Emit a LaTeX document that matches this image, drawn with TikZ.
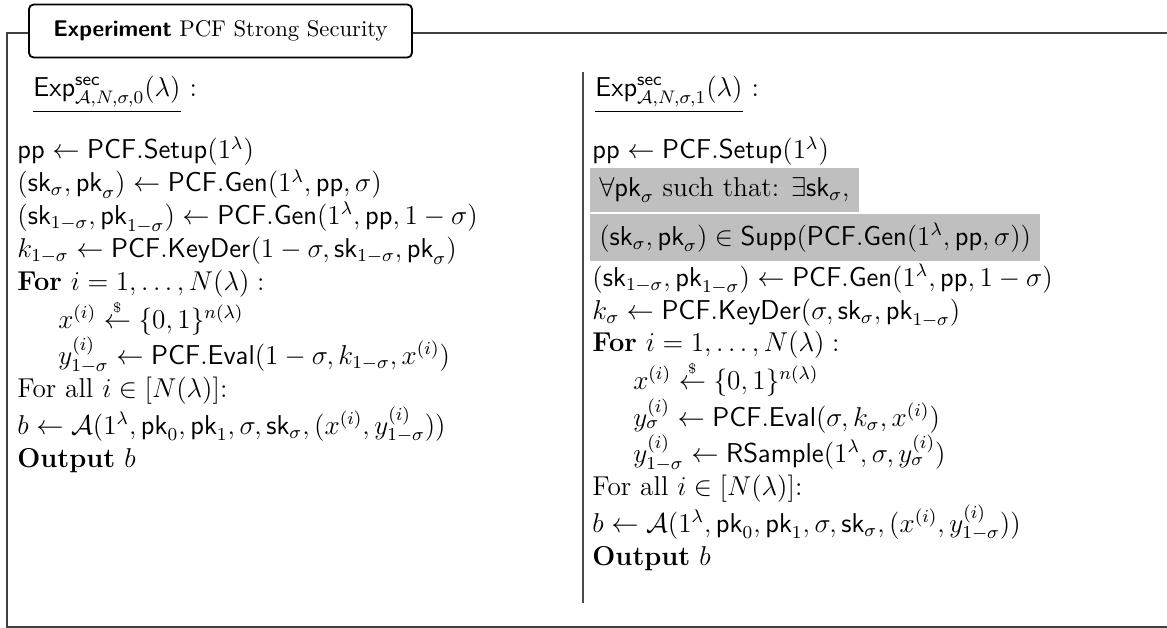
\documentclass[tikz,border=0pt,12pt]{standalone}
\usepackage{amsmath}
\usepackage{xcolor}
\newcommand{\sa}[1]{\mathsf{#1}}
\newcommand{\smp}{\mathrel{\overset{\scriptscriptstyle\$}{\leftarrow}}}
\newcommand{\ind}{\hspace*{18pt}}
\begin{document}
\begin{tikzpicture}[x=0.4405pt,y=-0.4405pt,
  frame/.style={draw=black!75, line width=0.8pt},
  sepline/.style={draw=black!70, line width=0.5pt},
  titlebox/.style={draw=black, line width=0.8pt, rounded corners=2pt, minimum width=168.7pt, minimum height=23.3pt, inner sep=0pt, font=\fontsize{10}{12}\selectfont},
  col/.style={anchor=base west, inner sep=0pt},
  hdr/.style={anchor=base west, inner sep=0pt}]
\useasboundingbox (0,0) rectangle (1167,628);
\fboxsep=4pt
\node[titlebox] (title) at (220.5,31) {\textsf{\bfseries Experiment} PCF Strong Security};
\coordinate (ty) at (0,33);
\draw[frame] (title.west |- ty) -- (7,33) -- (7,627) -- (1167,627);
\draw[frame] (title.east |- ty) -- (1167,33);
% headers
\node[hdr] (hl) at (33,97) {\underline{$\sa{Exp}^{\sa{sec}}_{\mathcal{A},N,\sigma,0}(\lambda)$}\hspace{4pt}:};
\node[hdr] (hr) at (595,97) {\underline{$\sa{Exp}^{\sa{sec}}_{\mathcal{A},N,\sigma,1}(\lambda)$}\hspace{4pt}:};
% separator
\draw[sepline] (583,72) -- (583,603);
% left column
\node[col] (left) at (17,159) {\vtop{\baselineskip=14.5pt
\hbox{$\sa{pp} \gets \sa{PCF.Setup}(1^\lambda)$}
\hbox{$(\sa{sk}_\sigma, \sa{pk}_\sigma) \gets \sa{PCF.Gen}(1^\lambda, \sa{pp}, \sigma)$}
\hbox{$(\sa{sk}_{1-\sigma}, \sa{pk}_{1-\sigma}) \gets \sa{PCF.Gen}(1^\lambda, \sa{pp}, 1-\sigma)$}
\hbox{$k_{1-\sigma} \gets \sa{PCF.KeyDer}(1-\sigma, \sa{sk}_{1-\sigma}, \sa{pk}_\sigma)$}
\hbox{\textbf{For} $i = 1, \ldots, N(\lambda):$}
\hbox{\ind$x^{(i)} \smp \{0,1\}^{n(\lambda)}$}
\hbox{\ind$y^{(i)}_{1-\sigma} \gets \sa{PCF.Eval}(1-\sigma, k_{1-\sigma}, x^{(i)})$}
\hbox{For all $i \in [N(\lambda)]$:}
\hbox{$b \gets \mathcal{A}(1^\lambda, \sa{pk}_0, \sa{pk}_1, \sigma, \sa{sk}_\sigma, (x^{(i)}, y^{(i)}_{1-\sigma}))$}
\hbox{\textbf{Output} $b$}}};
% right column
\node[col] (right) at (592,159) {\vtop{\baselineskip=14.5pt
\hbox{$\sa{pp} \gets \sa{PCF.Setup}(1^\lambda)$}
\hbox{\kern-1pt\colorbox{lightgray}{$\forall \sa{pk}_\sigma$ such that: $\exists \sa{sk}_\sigma$,}}
\hbox{\kern-1pt\colorbox{lightgray}{$(\sa{sk}_\sigma, \sa{pk}_\sigma) \in \sa{Supp}(\sa{PCF.Gen}(1^\lambda, \sa{pp}, \sigma))$}}
\hbox{$(\sa{sk}_{1-\sigma}, \sa{pk}_{1-\sigma}) \gets \sa{PCF.Gen}(1^\lambda, \sa{pp}, 1-\sigma)$}
\hbox{$k_\sigma \gets \sa{PCF.KeyDer}(\sigma, \sa{sk}_\sigma, \sa{pk}_{1-\sigma})$}
\hbox{\textbf{For} $i = 1, \ldots, N(\lambda):$}
\hbox{\ind$x^{(i)} \smp \{0,1\}^{n(\lambda)}$}
\hbox{\ind$y^{(i)}_\sigma \gets \sa{PCF.Eval}(\sigma, k_\sigma, x^{(i)})$}
\hbox{\ind$y^{(i)}_{1-\sigma} \gets \sa{RSample}(1^\lambda, \sigma, y^{(i)}_\sigma)$}
\hbox{For all $i \in [N(\lambda)]$:}
\hbox{$b \gets \mathcal{A}(1^\lambda, \sa{pk}_0, \sa{pk}_1, \sigma, \sa{sk}_\sigma, (x^{(i)}, y^{(i)}_{1-\sigma}))$}
\hbox{\textbf{Output} $b$}}};
\end{tikzpicture}
\end{document}
